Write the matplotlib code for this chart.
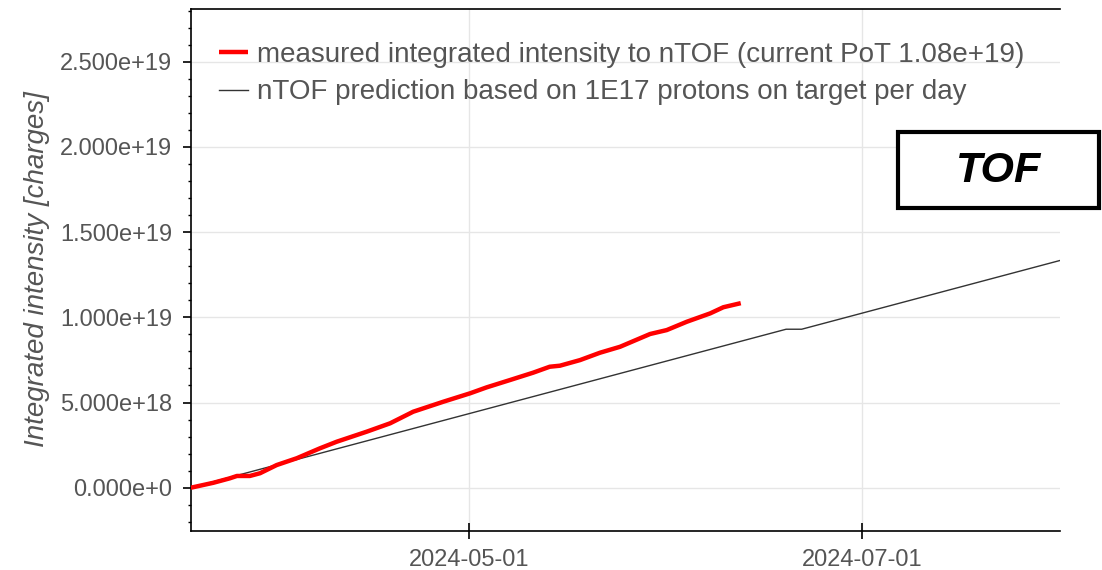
import matplotlib
matplotlib.use("Agg")
import matplotlib.pyplot as plt
import matplotlib.dates as mdates
from matplotlib.patches import Rectangle
from matplotlib.ticker import FuncFormatter, MultipleLocator
import pandas as pd

plt.rcParams['font.family'] = ['Liberation Sans', 'DejaVu Sans']

# measured integrated intensity (charges)
meas_dates = ["2024-03-18 18:00", "2024-03-22 06:00", "2024-03-24 19:00", "2024-03-25 22:00",
              "2024-03-27 22:00", "2024-03-29 12:00", "2024-04-01 02:00", "2024-04-04 05:00",
              "2024-04-07 19:00", "2024-04-10 10:00", "2024-04-15 02:00", "2024-04-18 17:00",
              "2024-04-22 07:00", "2024-04-27 00:00", "2024-05-01 03:00", "2024-05-03 17:00",
              "2024-05-07 08:00", "2024-05-10 22:00", "2024-05-13 12:00", "2024-05-15 02:00",
              "2024-05-18 05:00", "2024-05-21 07:00", "2024-05-24 10:00", "2024-05-29 02:00",
              "2024-05-31 16:00", "2024-06-03 19:00", "2024-06-07 10:00", "2024-06-09 11:00",
              "2024-06-12 04:00"]
meas_vals = [0.000e19, 0.029e19, 0.055e19, 0.069e19,
             0.069e19, 0.085e19, 0.133e19, 0.173e19,
             0.231e19, 0.270e19, 0.329e19, 0.378e19,
             0.446e19, 0.505e19, 0.554e19, 0.589e19,
             0.632e19, 0.675e19, 0.710e19, 0.716e19,
             0.749e19, 0.792e19, 0.827e19, 0.902e19,
             0.925e19, 0.974e19, 1.023e19, 1.059e19,
             1.083e19]

# prediction: 1E17 protons on target per day
pred_dates = ["2024-03-18 18:00", "2024-06-19 05:00", "2024-06-21 15:00", "2024-08-01 00:00"]
pred_vals = [0.0, 0.93e19, 0.93e19, 1.336e19]

meas_label = "measured integrated intensity to nTOF (current PoT 1.08e+19)"
pred_label = "nTOF prediction based on 1E17 protons on target per day"

fig = plt.figure(figsize=(11.02, 5.70), dpi=100)
ax = fig.add_axes([0.1729, 0.0684, 0.789, 0.9158])

ax.plot(pd.to_datetime(meas_dates), meas_vals, color="#ff0000", lw=3.2,
        solid_capstyle="butt", label=meas_label, zorder=3)
ax.plot(pd.to_datetime(pred_dates), pred_vals, color="#333333", lw=1.0,
        label=pred_label, zorder=2)

ax.set_xlim(pd.Timestamp("2024-03-18 17:00"), pd.Timestamp("2024-07-31 18:00"))
ax.set_ylim(-0.254e19, 2.809e19)

ax.xaxis.set_major_locator(mdates.MonthLocator(bymonth=[5, 7]))
ax.xaxis.set_major_formatter(mdates.DateFormatter("%Y-%m-%d"))
ax.yaxis.set_major_locator(MultipleLocator(0.5e19))
ax.yaxis.set_minor_locator(MultipleLocator(0.1e19))


def sci(v, pos):
    m, e = f"{v:.3e}".split("e")
    return f"{m}e+{int(e)}"


ax.yaxis.set_major_formatter(FuncFormatter(sci))
ax.yaxis.get_offset_text().set_visible(False)

ax.grid(True, color="#e6e6e6", lw=1.0, zorder=0)
ax.set_axisbelow(True)

ax.spines["right"].set_visible(False)
for s in ["left", "top", "bottom"]:
    ax.spines[s].set_linewidth(1.2)

ax.tick_params(axis="y", which="major", direction="out", length=6, width=1.2,
               labelsize=17, labelcolor="#555555", pad=7)
ax.tick_params(axis="y", which="minor", direction="out", length=2.5, width=1.0)
ax.tick_params(axis="x", which="major", direction="inout", length=12, width=1.2,
               labelsize=17, labelcolor="#555555", pad=7)

ax.set_ylabel("Integrated intensity [charges]", fontsize=20, style="italic",
              color="#555555")
ax.yaxis.set_label_coords(-0.1616, 0.502)

leg = ax.legend(loc="upper left", bbox_to_anchor=(0.0328, 0.9368), frameon=False,
                fontsize=20, handlelength=1.05, handletextpad=0.31, labelspacing=0.41,
                borderpad=0, borderaxespad=0)
for t in leg.get_texts():
    t.set_color("#555555")

# TOF label box
fig.patches.append(Rectangle((898 / 1102, 1 - 208 / 570), 201 / 1102, 76 / 570,
                             transform=fig.transFigure, fill=True, facecolor="white",
                             edgecolor="black", lw=3.0, zorder=5))
fig.text(999 / 1102, 1 - 171 / 570, "TOF", fontsize=31, fontweight="bold",
         style="italic", ha="center", va="center", color="black", zorder=6)

fig.savefig("out.png", dpi=100)
